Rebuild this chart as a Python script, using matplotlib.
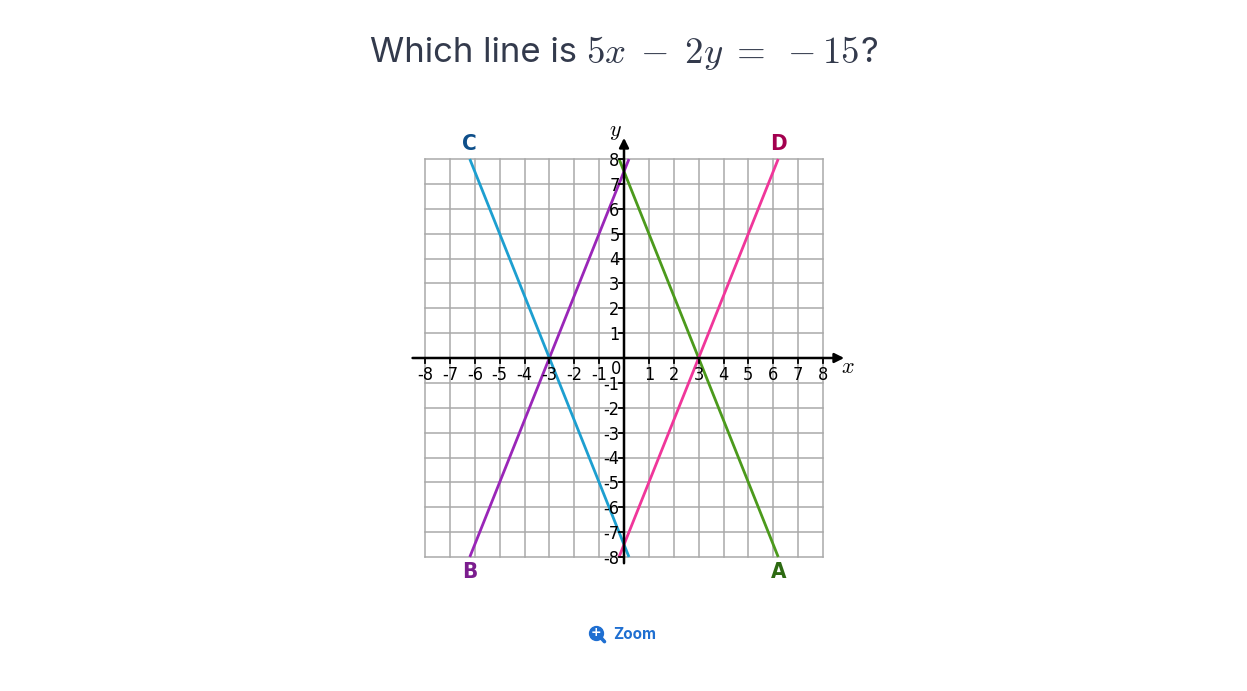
import matplotlib
matplotlib.use("Agg")
import matplotlib.pyplot as plt
import numpy as np

plt.rcParams['mathtext.fontset'] = 'cm'

# Data
line_names = ["A", "B", "C", "D"]
slopes = [-2.5, 2.5, -2.5, 2.5]
intercepts = [7.5, 7.5, -7.5, -7.5]
line_colors = ["#4c9a1c", "#9a26b8", "#1d9fd0", "#f0369a"]
label_colors = ["#2d6a12", "#7b1d8e", "#0e4f8a", "#a3004f"]
label_ends = ["bottom", "bottom", "top", "top"]
ticks = list(range(-8, 9))

narrow = dict(family='DejaVu Sans', stretch='condensed')

fig = plt.figure(figsize=(12.47, 6.91), dpi=100)
ax = fig.add_axes([375.25 / 1247, 84.25 / 691, 497.5 / 1247, 497.5 / 691])
ax.set_xlim(-10, 10)
ax.set_ylim(-10, 10)
ax.axis('off')

# grid
for t in ticks:
    ax.plot([t, t], [-8, 8], color="#a9a9a9", lw=1.1, zorder=1)
    ax.plot([-8, 8], [t, t], color="#a9a9a9", lw=1.1, zorder=1)

# axes with arrows
ax.annotate("", xy=(8.85, 0), xytext=(-8.5, 0),
            arrowprops=dict(arrowstyle="-|>", color="black", lw=1.8,
                            mutation_scale=14, shrinkA=0, shrinkB=0), zorder=4)
ax.annotate("", xy=(0, 8.85), xytext=(0, -8.25),
            arrowprops=dict(arrowstyle="-|>", color="black", lw=1.8,
                            mutation_scale=14, shrinkA=0, shrinkB=0), zorder=4)

# ticks and tick labels
for t in ticks:
    if t != 0:
        ax.plot([t, t], [0, -0.22], color="black", lw=1.3, zorder=4)
        ax.text(t, -0.34, str(t), ha='center', va='top', fontsize=13,
                color="black", zorder=5, **narrow)
        ax.plot([-0.22, 0], [t, t], color="black", lw=1.3, zorder=4)
        ax.text(-0.18, t - 0.08, str(t), ha='right', va='center', fontsize=13,
                color="black", zorder=5, **narrow)
ax.text(-0.3, -0.45, "0", ha='center', va='center', fontsize=13, color="black", **narrow)
ax.text(9.0, -0.35, r"$x$", ha='center', va='center', fontsize=16)
ax.text(-0.35, 9.1, r"$y$", ha='center', va='center', fontsize=16)

# lines
for name, m, b, lc, tc, end in zip(line_names, slopes, intercepts, line_colors,
                                    label_colors, label_ends):
    y_ends = np.array([-8.0, 8.0])
    x_ends = (y_ends - b) / m
    ax.plot(x_ends, y_ends, color=lc, lw=2.0, zorder=3, solid_capstyle='butt')
    if end == "top":
        xl = (8 - b) / m
        ax.text(xl, 8.2, name, ha='center', va='bottom', fontsize=16,
                fontweight='bold', color=tc, **narrow)
    else:
        xl = (-8 - b) / m
        ax.text(xl, -8.2, name, ha='center', va='top', fontsize=16,
                fontweight='bold', color=tc, **narrow)

# title: plain part + math part, measured and centered
renderer = fig.canvas.get_renderer()
ty = 1 - 53 / 691
t1 = fig.text(0, ty, "Which line is ", ha='left', va='center', fontsize=25,
              color="#333a4c", family='Inter')
t2 = fig.text(0, ty, r"$5x \;-\; 2y \;=\; -15$", ha='left', va='center',
              fontsize=26.5, color="#333a4c")
t3 = fig.text(0, ty, "?", ha='left', va='center', fontsize=25,
              color="#333a4c", family='Inter')
w1 = t1.get_window_extent(renderer).width
w2 = t2.get_window_extent(renderer).width
w3 = t3.get_window_extent(renderer).width
W = fig.bbox.width
x0 = (W - (w1 + w2 + w3)) / 2
t1.set_x(x0 / W)
t2.set_x((x0 + w1) / W)
t3.set_x((x0 + w1 + w2 + 1) / W)

# zoom link
zc = "#1f6fd1"
ix, iy = 596 / 1247, 1 - 633 / 691
fig.lines.append(plt.Line2D([ix + 0.0035, ix + 0.0068], [iy - 0.006, iy - 0.0125],
                            transform=fig.transFigure, color=zc, lw=2.6,
                            solid_capstyle='round'))
fig.lines.append(plt.Line2D([ix], [iy], transform=fig.transFigure, marker='o',
                            markersize=10, color=zc, markeredgecolor=zc, lw=0))
fig.text(ix, iy + 0.0005, "+", ha='center', va='center', fontsize=9, color="white",
         fontweight='bold')
fig.text(613 / 1247, iy - 0.002, "Zoom", ha='left', va='center', fontsize=11,
         fontweight='bold', color=zc, family='Inter')

fig.savefig("out.png", dpi=100, facecolor="white")
